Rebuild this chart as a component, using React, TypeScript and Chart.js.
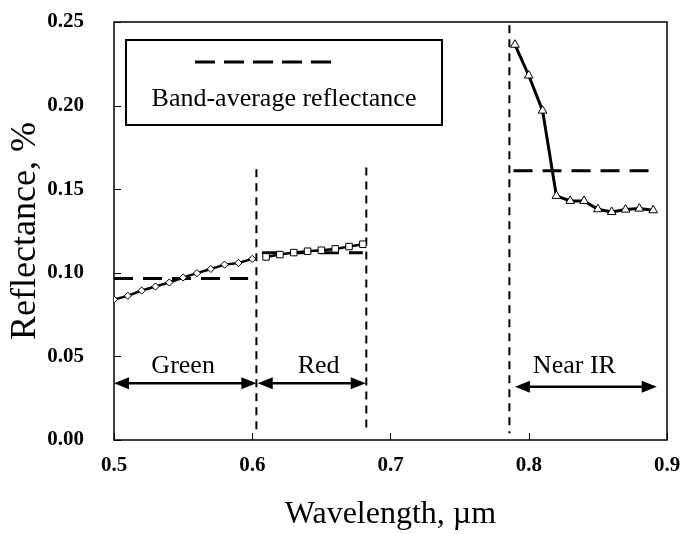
import React, { useEffect, useRef } from "react";
import { Chart, registerables } from "chart.js";

Chart.register(...registerables);

// ---- data ----
const greenWavelengths = [0.5, 0.51, 0.52, 0.53, 0.54, 0.55, 0.56, 0.57, 0.58, 0.59, 0.6];
const greenReflectance = [0.084, 0.0862, 0.0894, 0.0918, 0.0942, 0.0972, 0.0998, 0.1023, 0.1049, 0.1059, 0.1083];

const redWavelengths = [0.61, 0.62, 0.63, 0.64, 0.65, 0.66, 0.67, 0.68];
const redReflectance = [0.1095, 0.1109, 0.1121, 0.1129, 0.1135, 0.1143, 0.1157, 0.1171];

const nirWavelengths = [0.79, 0.8, 0.81, 0.82, 0.83, 0.84, 0.85, 0.86, 0.87, 0.88, 0.89];
const nirReflectance = [0.2364, 0.218, 0.197, 0.146, 0.143, 0.143, 0.138, 0.1364, 0.1378, 0.1384, 0.1374];

const bandAverages = [0.0966, 0.112, 0.161];
const bandAvgStart = [0.5, 0.607, 0.789];
const bandAvgEnd = [0.597, 0.68, 0.888];

const bandBoundaries = [0.603, 0.6825, 0.786];
const boundaryTops = [0.162, 0.163, 0.248];
const boundaryBottom = 0.004;

const bandNames = ["Green", "Red", "Near IR"];
const bandLabelX = [0.55, 0.648, 0.833];
const bandLabelY = [0.04, 0.04, 0.04];
const bandArrowFrom = [0.5, 0.604, 0.79];
const bandArrowTo = [0.603, 0.6821, 0.8926];
const bandArrowY = [0.0339, 0.0339, 0.0318];

const xTicks = [0.5, 0.6, 0.7, 0.8, 0.9];
const yTicks = [0, 0.05, 0.1, 0.15, 0.2, 0.25];

const legendLabel = "Band-average reflectance";
const xTitle = "Wavelength, \u00b5m";
const yTitle = "Reflectance, %";

const SERIF = "'Times New Roman', 'Liberation Serif', serif";

function pts(xs: number[], ys: number[]) {
  return xs.map((x, i) => ({ x, y: ys[i] }));
}

const overlayPlugin = {
  id: "overlay",
  beforeDatasetsDraw(chart: any) {
    const { ctx, chartArea: a, scales } = chart;
    const xs = scales.x;
    const ys = scales.y;
    ctx.save();
    ctx.strokeStyle = "#000";
    ctx.lineWidth = 1.5;
    ctx.strokeRect(a.left, a.top, a.right - a.left, a.bottom - a.top);
    ctx.lineWidth = 1;
    ctx.beginPath();
    yTicks.forEach((v) => {
      const py = Math.round(ys.getPixelForValue(v)) + 0.5;
      ctx.moveTo(a.left, py);
      ctx.lineTo(a.left + 7, py);
    });
    xTicks.forEach((v) => {
      const px = Math.round(xs.getPixelForValue(v)) + 0.5;
      ctx.moveTo(px, a.bottom);
      ctx.lineTo(px, a.bottom - 7);
    });
    ctx.stroke();
    ctx.restore();
  },
  afterDatasetsDraw(chart: any) {
    const { ctx, scales } = chart;
    const xs = scales.x;
    const ys = scales.y;
    ctx.save();
    ctx.strokeStyle = "#000";
    ctx.fillStyle = "#000";
    bandNames.forEach((name, i) => {
      const x1 = xs.getPixelForValue(bandArrowFrom[i]);
      const x2 = xs.getPixelForValue(bandArrowTo[i]);
      const y = ys.getPixelForValue(bandArrowY[i]);
      const hl = 15;
      const hw = 6;
      ctx.lineWidth = 2.5;
      ctx.beginPath();
      ctx.moveTo(x1 + hl - 2, y);
      ctx.lineTo(x2 - hl + 2, y);
      ctx.stroke();
      ctx.beginPath();
      ctx.moveTo(x1, y);
      ctx.lineTo(x1 + hl, y - hw);
      ctx.lineTo(x1 + hl, y + hw);
      ctx.closePath();
      ctx.fill();
      ctx.beginPath();
      ctx.moveTo(x2, y);
      ctx.lineTo(x2 - hl, y - hw);
      ctx.lineTo(x2 - hl, y + hw);
      ctx.closePath();
      ctx.fill();
      ctx.font = `26px ${SERIF}`;
      ctx.textAlign = "center";
      ctx.textBaseline = "alphabetic";
      ctx.fillText(name, xs.getPixelForValue(bandLabelX[i]), ys.getPixelForValue(bandLabelY[i]));
    });
    ctx.restore();
  },
  afterDraw(chart: any) {
    const { ctx, chartArea: a } = chart;
    ctx.save();
    const bx = a.left + 12;
    const by = a.top + 18;
    const bw = 316;
    const bh = 85;
    ctx.fillStyle = "#fff";
    ctx.fillRect(bx, by, bw, bh);
    ctx.strokeStyle = "#000";
    ctx.lineWidth = 2;
    ctx.strokeRect(bx, by, bw, bh);
    ctx.lineWidth = 3;
    ctx.setLineDash([20, 9]);
    ctx.beginPath();
    ctx.moveTo(bx + 69, by + 22);
    ctx.lineTo(bx + 207, by + 22);
    ctx.stroke();
    ctx.setLineDash([]);
    ctx.fillStyle = "#000";
    ctx.font = `26px ${SERIF}`;
    ctx.textAlign = "center";
    ctx.textBaseline = "alphabetic";
    ctx.fillText(legendLabel, bx + bw / 2, by + 66);
    ctx.restore();
  },
};

export default function App() {
  const canvasRef = useRef<HTMLCanvasElement | null>(null);

  useEffect(() => {
    document.body.style.margin = "0";
    const canvas = canvasRef.current;
    if (!canvas) return;

    const seriesBase = {
      borderColor: "#000",
      pointBorderColor: "#000",
      pointBackgroundColor: "#fff",
      pointBorderWidth: 1,
      showLine: true,
      tension: 0,
    };

    const datasets: any[] = [
      {
        ...seriesBase,
        label: "Green",
        data: pts(greenWavelengths, greenReflectance),
        borderWidth: 2.5,
        pointStyle: "rectRot",
        pointRadius: 3.6,
      },
      {
        ...seriesBase,
        label: "Red",
        data: pts(redWavelengths, redReflectance),
        borderWidth: 2.5,
        pointStyle: "rect",
        pointRadius: 4.6,
      },
      {
        ...seriesBase,
        label: "Near IR",
        data: pts(nirWavelengths, nirReflectance),
        borderWidth: 3,
        pointStyle: "triangle",
        pointRadius: 5,
      },
    ];

    bandAverages.forEach((v, i) => {
      datasets.push({
        label: "avg" + i,
        data: [
          { x: bandAvgStart[i], y: v },
          { x: bandAvgEnd[i], y: v },
        ],
        borderColor: "#000",
        borderWidth: 3,
        borderDash: [19, 10],
        pointRadius: 0,
        showLine: true,
      });
    });

    bandBoundaries.forEach((v, i) => {
      datasets.push({
        label: "bound" + i,
        data: [
          { x: v, y: boundaryTops[i] },
          { x: v, y: boundaryBottom },
        ],
        borderColor: "#000",
        borderWidth: 2,
        borderDash: [8, 6],
        pointRadius: 0,
        showLine: true,
      });
    });

    const chart = new Chart(canvas, {
      type: "scatter",
      data: { datasets },
      options: {
        responsive: false,
        animation: false,
        events: [],
        layout: { padding: { top: 22, right: 13, left: 0, bottom: 0 } },
        plugins: {
          legend: { display: false },
          tooltip: { enabled: false },
        },
        scales: {
          x: {
            type: "linear",
            min: 0.5,
            max: 0.9,
            afterFit: (s: any) => {
              s.height = 94;
              s.paddingLeft = 0;
              s.paddingRight = 0;
              s.paddingTop = 0;
              s.paddingBottom = 0;
            },
            afterBuildTicks: (s: any) => {
              s.ticks = xTicks.map((v) => ({ value: v }));
            },
            grid: { display: false },
            border: { display: false },
            ticks: {
              color: "#000",
              padding: 5,
              maxRotation: 0,
              font: { family: SERIF, size: 21, weight: "bold" },
              callback: (v: any) => Number(v).toFixed(1),
            },
            title: {
              display: true,
              text: xTitle,
              color: "#000",
              font: { family: SERIF, size: 32 },
              padding: { top: 0, bottom: 0 },
            },
          },
          y: {
            type: "linear",
            min: 0,
            max: 0.25,
            afterFit: (s: any) => {
              s.width = 114;
              s.paddingLeft = 0;
              s.paddingRight = 0;
              s.paddingTop = 0;
              s.paddingBottom = 0;
            },
            afterBuildTicks: (s: any) => {
              s.ticks = yTicks.map((v) => ({ value: v }));
            },
            grid: { display: false },
            border: { display: false },
            ticks: {
              color: "#000",
              padding: 22,
              font: { family: SERIF, size: 21, weight: "bold" },
              callback: (v: any) => Number(v).toFixed(2),
            },
            title: {
              display: true,
              text: yTitle,
              color: "#000",
              font: { family: SERIF, size: 36 },
              padding: { top: 4, bottom: 0 },
            },
          },
        },
      } as any,
      plugins: [overlayPlugin],
    });

    return () => chart.destroy();
  }, []);

  return (
    <div style={{ width: 680, height: 534, background: "#fff" }}>
      <canvas ref={canvasRef} width={680} height={534} style={{ display: "block" }} />
    </div>
  );
}
